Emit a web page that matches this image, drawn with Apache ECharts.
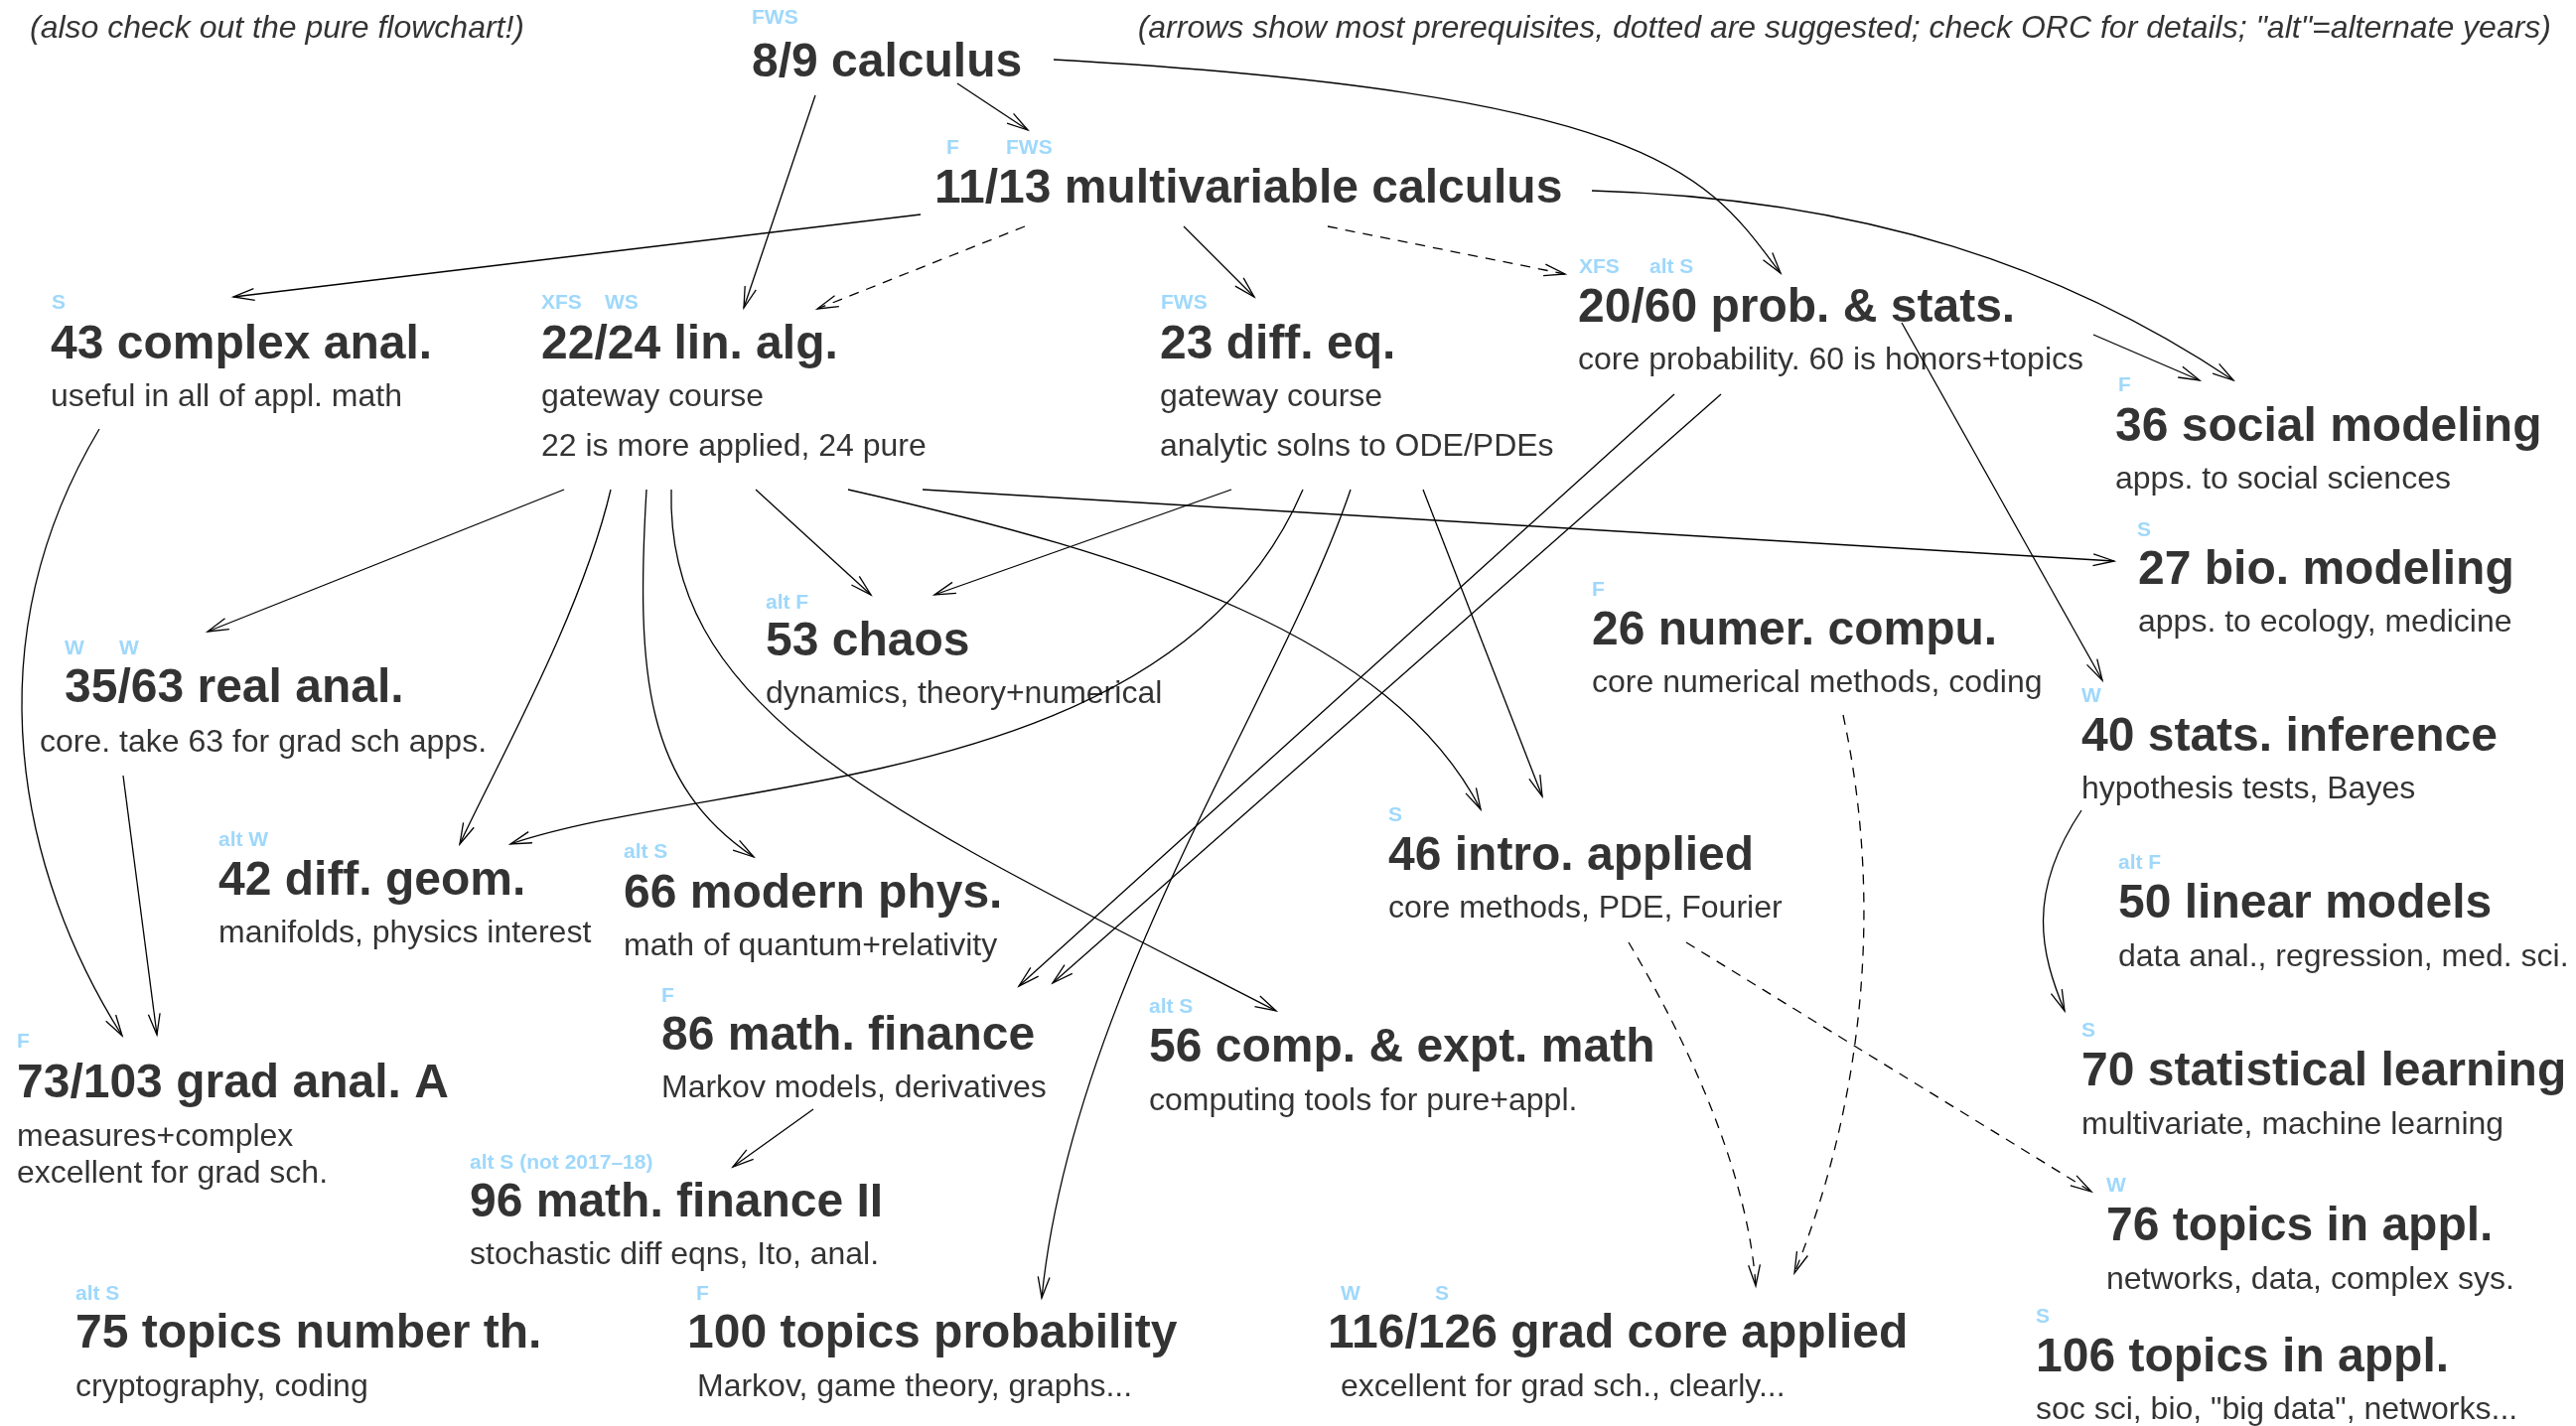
<!DOCTYPE html>
<html>
<head>
    <meta http-equiv="content-type" content="text/html; charset=utf-8">
    <script src="https://cdn.jsdelivr.net/npm/echarts@6/dist/echarts.min.js"></script>
    <style>
        html, body { margin: 0; padding: 0; background: #fff; }
        #main { width: 2594px; height: 1436px; }
    </style>
</head>
<body>
<div id="main"></div>
<script>
    // layout space: x 0..2594, y 0..1436 (y downwards)
    var notes = [
        [30, 29, '(also check out the pure flowchart!)'],
        [2569, 29, '(arrows show most prerequisites, dotted are suggested; check ORC for details; "alt"=alternate years)']
    ]

    // course titles [x, y, text]
    var titles = [
        [757, 64, '8/9 calculus'],
        [941, 191, '11/13 multivariable calculus'],
        [51, 348, '43 complex anal.'],
        [545, 348, '22/24 lin. alg.'],
        [1168, 348, '23 diff. eq.'],
        [1589, 311, '20/60 prob. & stats.'],
        [2130, 431, '36 social modeling'],
        [2153, 575, '27 bio. modeling'],
        [65, 694, '35/63 real anal.'],
        [771, 647, '53 chaos'],
        [1603, 636, '26 numer. compu.'],
        [2096, 743, '40 stats. inference'],
        [220, 888, '42 diff. geom.'],
        [628, 901, '66 modern phys.'],
        [1398, 863, '46 intro. applied'],
        [2133, 911, '50 linear models'],
        [17, 1092, '73/103 grad anal. A'],
        [666, 1044, '86 math. finance'],
        [1157, 1056, '56 comp. & expt. math'],
        [473, 1212, '96 math. finance II'],
        [76, 1344, '75 topics number th.'],
        [692, 1344, '100 topics probability'],
        [2096, 1080, '70 statistical learning'],
        [2121, 1236, '76 topics in appl.'],
        [1337, 1344, '116/126 grad core applied'],
        [2050, 1368, '106 topics in appl.']
    ]

    // description lines [x, y, text]
    var descs = [
        [51, 400, 'useful in all of appl. math'],
        [545, 400, 'gateway course'],
        [545, 450, '22 is more applied, 24 pure'],
        [1168, 400, 'gateway course'],
        [1168, 450, 'analytic solns to ODE/PDEs'],
        [1589, 363, 'core probability. 60 is honors+topics'],
        [2130, 483, 'apps. to social sciences'],
        [2153, 627, 'apps. to ecology, medicine'],
        [40, 748, 'core. take 63 for grad sch apps.'],
        [771, 699, 'dynamics, theory+numerical'],
        [1603, 688, 'core numerical methods, coding'],
        [2096, 795, 'hypothesis tests, Bayes'],
        [220, 940, 'manifolds, physics interest'],
        [628, 953, 'math of quantum+relativity'],
        [1398, 915, 'core methods, PDE, Fourier'],
        [2133, 964, 'data anal., regression, med. sci.'],
        [17, 1145, 'measures+complex'],
        [17, 1182, 'excellent for grad sch.'],
        [666, 1096, 'Markov models, derivatives'],
        [1157, 1109, 'computing tools for pure+appl.'],
        [473, 1264, 'stochastic diff eqns, Ito, anal.'],
        [76, 1397, 'cryptography, coding'],
        [702, 1397, 'Markov, game theory, graphs...'],
        [2096, 1133, 'multivariate, machine learning'],
        [2121, 1289, 'networks, data, complex sys.'],
        [1350, 1397, 'excellent for grad sch., clearly...'],
        [2050, 1420, 'soc sci, bio, "big data", networks...']
    ]

    // terms offered [x, y, text]
    var terms = [
        [757, 18, 'FWS'],
        [953, 149, 'F'], [1013, 149, 'FWS'],
        [52, 305, 'S'],
        [545, 305, 'XFS'], [609, 305, 'WS'],
        [1169, 305, 'FWS'],
        [1590, 269, 'XFS'], [1661, 269, 'alt S'],
        [2133, 388, 'F'],
        [2152, 534, 'S'],
        [65, 653, 'W'], [120, 653, 'W'],
        [771, 607, 'alt F'],
        [1603, 594, 'F'],
        [2096, 701, 'W'],
        [220, 846, 'alt W'],
        [628, 858, 'alt S'],
        [1398, 821, 'S'],
        [2133, 869, 'alt F'],
        [17, 1049, 'F'],
        [666, 1003, 'F'],
        [1157, 1014, 'alt S'],
        [473, 1171, 'alt S (not 2017\u201318)'],
        [76, 1303, 'alt S'],
        [701, 1303, 'F'],
        [2096, 1038, 'S'],
        [2121, 1194, 'W'],
        [1350, 1303, 'W'], [1445, 1303, 'S'],
        [2050, 1326, 'S']
    ]

    // arrows: start, tip, bend (two bezier control points or null), dotted
    var arrowStart = [
        [964, 84], [821, 96], [1061, 60], [927, 216], [1032, 228], [1192, 228], [1337, 228], [1603, 192],
        [2108, 337], [1915, 325], [1686, 397], [1733, 397],
        [1240, 493], [1312, 493], [1360, 493], [1433, 493],
        [568, 493], [615, 493], [651, 493], [676, 493], [761, 493], [854, 493], [929, 493],
        [100, 432], [124, 781], [819, 1117], [2096, 816],
        [1856, 720], [1640, 949], [1698, 949]
    ]
    var arrowEnd = [
        [1035, 131], [749, 310], [1793, 275], [235, 299], [823, 311], [1263, 299], [1576, 276], [2249, 383],
        [2215, 383], [2117, 685], [1026, 993], [1060, 990],
        [941, 599], [514, 850], [1049, 1307], [1553, 802],
        [209, 636], [463, 850], [759, 863], [1285, 1018], [877, 599], [1491, 815], [2129, 565],
        [123, 1043], [158, 1042], [738, 1175], [2079, 1018],
        [1807, 1282], [1768, 1295], [2106, 1200]
    ]
    var arrowBend = [
        null, null, [[1680, 95], [1720, 180]], null, null, null, null, [[1880, 200], [2080, 270]],
        null, null, null, null,
        null, [[1180, 800], [720, 780]], [[1290, 700], [1080, 1000]], null,
        null, [[585, 620], [500, 770]], [[640, 680], [650, 790]], [[670, 720], [900, 820]], null, [[1150, 560], [1400, 640]], null,
        [[-30, 650], [20, 880]], null, null, [[2040, 900], [2055, 960]],
        [[1895, 900], [1880, 1100]], [[1700, 1050], [1760, 1180]], null
    ]
    var arrowDotted = [
        0, 0, 0, 0, 1, 0, 1, 0,
        0, 0, 0, 0,
        0, 0, 0, 0,
        0, 0, 0, 0, 0, 0, 0,
        0, 0, 0, 0,
        1, 1, 1
    ]

    var FONT = 'Liberation Sans, Arial, Helvetica, sans-serif'

    function textSeries(list, label) {
        return {
            type: 'scatter',
            symbolSize: 0,
            silent: true,
            data: list.map(function (d) { return [d[0], d[1], d[2]] }),
            label: Object.assign({
                show: true,
                position: 'right',
                distance: 0,
                fontFamily: FONT,
                textBorderWidth: 0,
                formatter: function (p) { return p.data[2] }
            }, label)
        }
    }

    // 箭头: line or cubic curve plus an open head
    function renderArrow(params, api) {
        var i = params.dataIndex
        var p0 = api.coord(arrowStart[i])
        var p3 = api.coord(arrowEnd[i])
        var bend = arrowBend[i]
        var lineStyle = {stroke: '#000', fill: null, lineWidth: 1.3, lineDash: arrowDotted[i] ? [10, 8] : null}
        var children = []
        var from
        if (bend) {
            var c1 = api.coord(bend[0]), c2 = api.coord(bend[1])
            children.push({
                type: 'bezierCurve',
                shape: {x1: p0[0], y1: p0[1], x2: p3[0], y2: p3[1], cpx1: c1[0], cpy1: c1[1], cpx2: c2[0], cpy2: c2[1]},
                style: lineStyle
            })
            from = c2
        } else {
            children.push({
                type: 'line',
                shape: {x1: p0[0], y1: p0[1], x2: p3[0], y2: p3[1]},
                style: lineStyle
            })
            from = p0
        }
        var ang = Math.atan2(p3[1] - from[1], p3[0] - from[0])
        var len = 22, spread = 0.27
        var a = [p3[0] - len * Math.cos(ang - spread), p3[1] - len * Math.sin(ang - spread)]
        var b = [p3[0] - len * Math.cos(ang + spread), p3[1] - len * Math.sin(ang + spread)]
        children.push({
            type: 'polyline',
            shape: {points: [a, p3, b]},
            style: {stroke: '#000', fill: null, lineWidth: 1.3}
        })
        return {type: 'group', children: children}
    }

    var option = {
        animation: false,
        backgroundColor: '#fff',
        grid: {left: 0, right: 0, top: 0, bottom: 0},
        xAxis: {type: 'value', min: 0, max: 2594, show: false},
        yAxis: {type: 'value', min: 0, max: 1436, inverse: true, show: false},
        series: [
            {
                type: 'custom',
                silent: true,
                clip: false,
                renderItem: renderArrow,
                data: arrowStart.map(function (p) { return [p[0], p[1]] })
            },
            textSeries(titles, {fontSize: 48, fontWeight: 'bold', color: '#000'}),
            textSeries(descs, {fontSize: 32, color: '#000'}),
            textSeries(terms, {fontSize: 21, fontWeight: 'bold', color: '#87CEFA'}),
            textSeries(notes.slice(0, 1), {fontSize: 32, fontStyle: 'italic', color: '#000'}),
            textSeries(notes.slice(1), {fontSize: 32, fontStyle: 'italic', color: '#000', position: 'left'})
        ]
    }

    var chart = echarts.init(document.getElementById('main'))
    chart.setOption(option)
</script>
</body>
</html>
